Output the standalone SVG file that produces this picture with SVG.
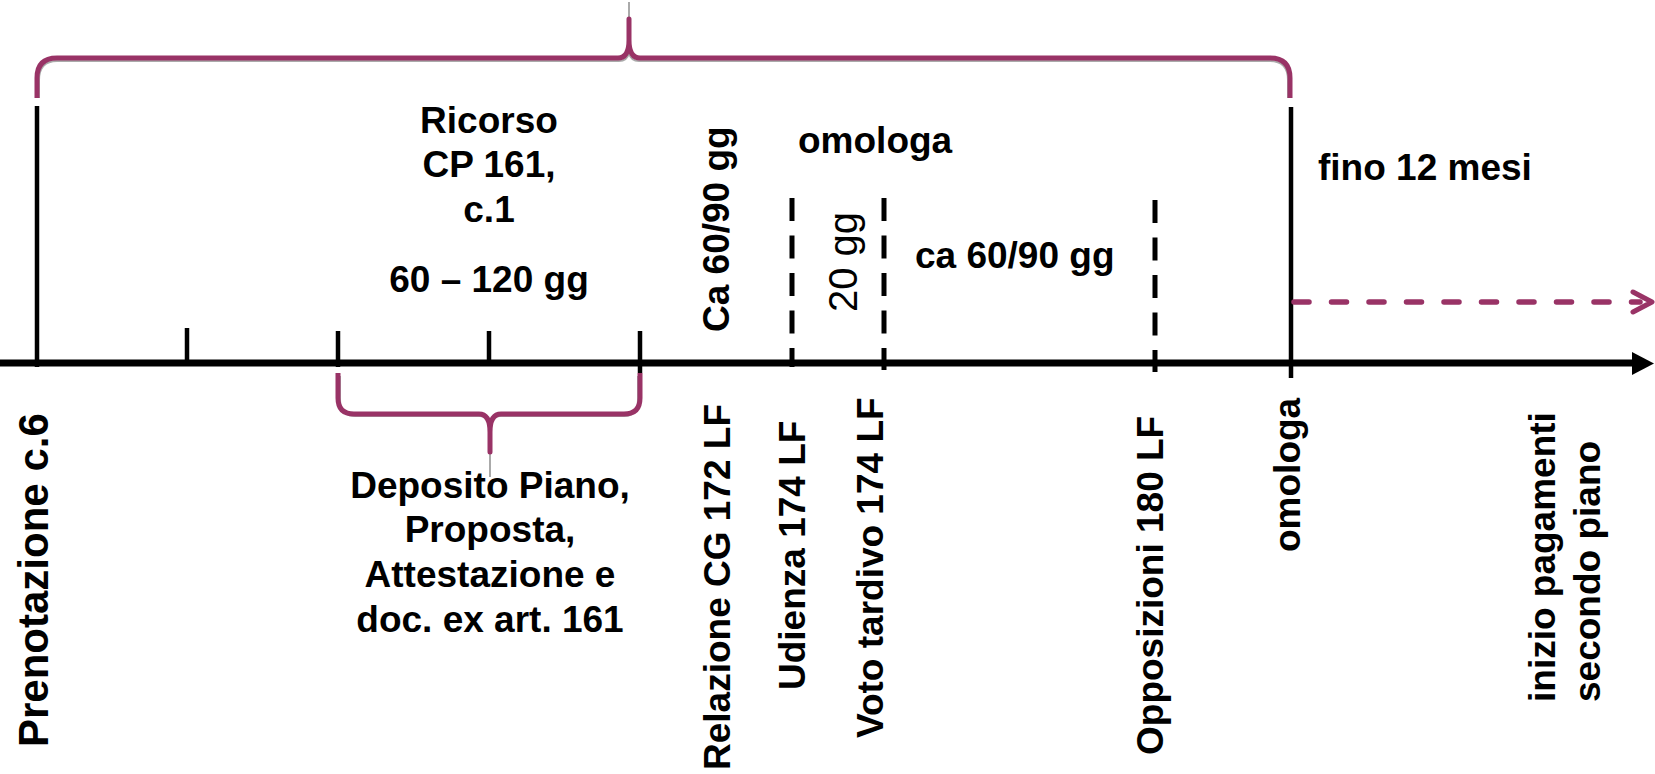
<svg xmlns="http://www.w3.org/2000/svg" width="1655" height="774" viewBox="0 0 1655 774">
<style>
.t{font-family:"Liberation Sans",Arial,sans-serif;font-weight:bold;font-size:37px;fill:#000}
.c{text-anchor:middle}
.tick{stroke:#000;stroke-width:4.5;fill:none}
.dash{stroke:#000;stroke-width:5;stroke-dasharray:23 14.5;fill:none}
.brace{stroke:#993366;stroke-width:5;fill:none;stroke-linejoin:round;stroke-linecap:butt}
.shadow{stroke:#aaa;stroke-width:2;fill:none}
</style>
<rect width="1655" height="774" fill="#fff"/>
<g id="connectors">
<line x1="0" y1="363" x2="1634" y2="363" stroke="#000" stroke-width="7"/>
<path d="M1632,352 L1654,363.5 L1632,375 Z" fill="#000"/>
<line class="tick" x1="37" y1="106" x2="37" y2="367"/>
<line class="tick" x1="187" y1="328" x2="187" y2="365"/>
<line class="tick" x1="338" y1="331" x2="338" y2="367"/>
<line class="tick" x1="489" y1="331" x2="489" y2="365"/>
<line class="tick" x1="640" y1="331" x2="640" y2="373"/>
<line class="tick" x1="1291" y1="107" x2="1291" y2="378"/>
<line class="dash" x1="792" y1="198" x2="792" y2="367"/>
<line class="dash" x1="884" y1="198" x2="884" y2="370"/>
<line class="dash" x1="1155" y1="200" x2="1155" y2="372"/>
<path class="shadow" d="M39,98 L39,80 Q39,61 57,61 L619,61 Q627,61 629,53 Q631,61 639,61 L1270,61 Q1288,61 1288,80 L1288,98"/>
<line class="shadow" x1="629" y1="2" x2="629" y2="20"/>
<path class="brace" d="M37,98 L37,78 Q37,58 57,58 L618,58 Q629,58 629,40 L629,19 L629,40 Q629,58 640,58 L1270,58 Q1290,58 1290,78 L1290,98"/>
<path class="shadow" d="M340,376 L340,400 Q340,416 356,416 L480,416 Q488,416 490,424 Q492,416 500,416 L624,416 Q638,416 638,400 L638,376"/>
<line class="shadow" x1="490" y1="452" x2="490" y2="477"/>
<path class="brace" d="M338,373 L338,398 Q338,414 354,414 L479,414 Q490,414 490,432 L490,452 L490,432 Q490,414 501,414 L624,414 Q640,414 640,398 L640,373"/>
<line x1="1294" y1="302" x2="1640" y2="302" stroke="#993366" stroke-width="5.5" stroke-linecap="round" stroke-dasharray="15 22.5"/>
<path d="M1633,292 L1652,302 L1633,312" stroke="#993366" stroke-width="5" fill="none" stroke-linecap="round" stroke-linejoin="round"/>
</g>
<g id="ricorso">
<text class="t c" x="489" y="133">Ricorso</text>
<text class="t c" x="489" y="177">CP 161,</text>
<text class="t c" x="489" y="222">c.1</text>
<text class="t c" x="489" y="292">60 – 120 gg</text>
</g>
<g id="deposito">
<text class="t c" x="490" y="498">Deposito Piano,</text>
<text class="t c" x="490" y="542">Proposta,</text>
<text class="t c" x="490" y="587">Attestazione e</text>
<text class="t c" x="490" y="632">doc. ex art. 161</text>
</g>
<g id="prenotazione">
<text class="t" style="font-size:42px" transform="translate(48,747) rotate(-90)">Prenotazione c.6</text>
</g>
<g id="ca6090v">
<text class="t" transform="translate(729,332) rotate(-90)">Ca 60/90 gg</text>
</g>
<g id="omologa-top">
<text class="t" x="798" y="153">omologa</text>
</g>
<g id="venti-gg">
<text transform="translate(857,312) rotate(-90)" style="font-family:'Liberation Sans',Arial,sans-serif;font-size:40px">20 gg</text>
</g>
<g id="ca6090h">
<text class="t" x="915" y="268">ca 60/90 gg</text>
</g>
<g id="fino">
<text class="t" x="1318" y="180">fino 12 mesi</text>
</g>
<g id="relazione">
<text class="t" transform="translate(730,770) rotate(-90)">Relazione CG 172 LF</text>
</g>
<g id="udienza">
<text class="t" transform="translate(805,690) rotate(-90)">Udienza 174 LF</text>
</g>
<g id="voto">
<text class="t" transform="translate(883,738) rotate(-90)">Voto tardivo 174 LF</text>
</g>
<g id="opposizioni">
<text class="t" transform="translate(1163,755) rotate(-90)">Opposizioni 180 LF</text>
</g>
<g id="omologa-bottom">
<text class="t" transform="translate(1300,552) rotate(-90)">omologa</text>
</g>
<g id="inizio">
<text class="t" transform="translate(1555,702) rotate(-90)">inizio pagamenti</text>
<text class="t" transform="translate(1600,702) rotate(-90)">secondo piano</text>
</g>
</svg>
